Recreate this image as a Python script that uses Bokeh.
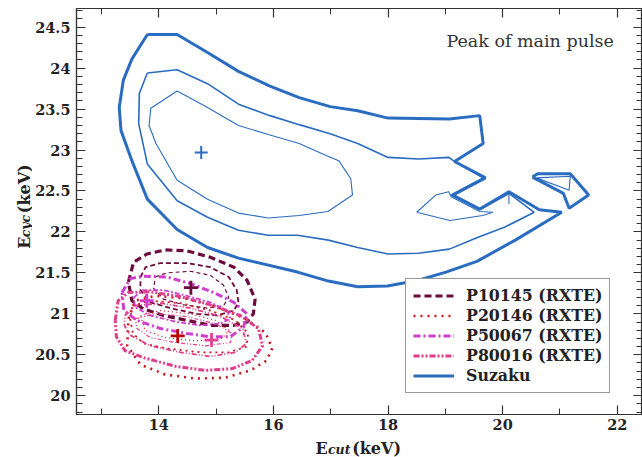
import math
from bokeh.plotting import figure
from bokeh.models import (Range1d, FixedTicker, LinearAxis, CustomJSTickFormatter,
                          Legend, LegendItem, Label)
from bokeh.layouts import column, row
from bokeh.embed import file_html
from bokeh.resources import INLINE

# ---------------- data (keV) ----------------
X_TICKS = [14, 16, 18, 20, 22]
X_MINOR = [13, 14, 15, 16, 17, 18, 19, 20, 21, 22]
Y_TICKS = [20, 20.5, 21, 21.5, 22, 22.5, 23, 23.5, 24, 24.5]
Y_MINOR = [round(19.8 + 0.1 * i, 1) for i in range(50)]

SERIES = ["P10145 (RXTE)", "P20146 (RXTE)", "P50067 (RXTE)", "P80016 (RXTE)", "Suzaku"]

# Suzaku confidence contours (outer, middle, inner)
SUZ_OUTER_X = [13.80, 14.32, 14.85, 15.39, 15.94, 16.45, 16.99, 17.47, 18.00, 19.07, 19.60, 19.66, 19.16,
               19.70, 19.13, 19.60, 20.11, 20.64, 21.03, 20.22, 19.55, 19.01, 18.53, 17.99, 17.47, 16.96,
               16.42, 15.39, 14.85, 14.32, 13.80, 13.53, 13.34, 13.31, 13.38, 13.53, 13.80]
SUZ_OUTER_Y = [24.41, 24.41, 24.19, 23.96, 23.78, 23.64, 23.53, 23.48, 23.39, 23.38, 23.42, 23.08, 22.86,
               22.66, 22.45, 22.28, 22.49, 22.27, 22.24, 21.90, 21.64, 21.51, 21.41, 21.34, 21.33, 21.40,
               21.51, 21.68, 21.81, 22.03, 22.40, 22.87, 23.24, 23.52, 23.85, 24.11, 24.41]
SUZ_MID_X = [13.80, 14.32, 14.85, 15.39, 15.94, 16.45, 16.99, 17.47, 18.00, 18.53, 19.06, 19.14, 19.66,
             19.10, 19.60, 20.11, 20.55, 20.04, 19.55, 19.07, 18.53, 18.00, 17.47, 16.96, 16.42, 15.91,
             15.39, 14.85, 14.32, 13.80, 13.65, 13.66, 13.80]
SUZ_MID_Y = [23.94, 23.98, 23.81, 23.56, 23.42, 23.31, 23.20, 23.08, 22.91, 22.89, 22.91, 22.87, 22.66,
             22.45, 22.27, 22.47, 22.24, 22.06, 21.93, 21.79, 21.74, 21.73, 21.81, 21.90, 21.96, 21.96,
             22.02, 22.18, 22.38, 22.83, 23.32, 23.69, 23.94]
SUZ_INNER_X = [14.32, 13.86, 13.83, 13.95, 14.32, 14.85, 15.39, 15.91, 16.45, 16.95, 17.38, 17.35, 17.14,
               16.93, 16.45, 15.91, 15.39, 14.85, 14.32]
SUZ_INNER_Y = [23.72, 23.51, 23.30, 23.08, 22.63, 22.40, 22.23, 22.17, 22.20, 22.25, 22.45, 22.65, 22.87,
               22.93, 23.08, 23.19, 23.30, 23.52, 23.72]
SUZ_PIECE_X = [18.50, 18.83, 19.06, 19.10, 19.60, 19.83, 19.65, 19.08, 18.50]
SUZ_PIECE_Y = [22.24, 22.45, 22.49, 22.43, 22.25, 22.24, 22.20, 22.14, 22.24]
SUZ_ISLAND_X = [20.52, 20.61, 21.18, 21.50, 21.16, 21.06, 20.52]
SUZ_ISLAND_Y = [22.67, 22.71, 22.71, 22.45, 22.29, 22.47, 22.67]
SUZ_ISLAND_IN_X = [20.59, 21.18, 21.16, 20.59]
SUZ_ISLAND_IN_Y = [22.66, 22.68, 22.51, 22.66]
SUZ_SPUR_X = [20.11, 20.11]
SUZ_SPUR_Y = [22.46, 22.34]

# RXTE contours: [outer, middle, inner]
P10145_X = [[13.47, 13.56, 13.79, 14.11, 14.49, 14.90, 15.31, 15.54, 15.68, 15.65, 15.54, 15.31, 14.90, 14.49, 14.08, 13.73, 13.53, 13.47],
            [13.68, 13.77, 14.03, 14.49, 14.90, 15.22, 15.36, 15.39, 15.31, 15.02, 14.67, 14.26, 13.85, 13.68, 13.68],
            [13.94, 14.14, 14.55, 14.90, 15.13, 15.22, 15.13, 14.84, 14.43, 14.08, 13.91, 13.94]]
P10145_Y = [[21.39, 21.63, 21.73, 21.78, 21.77, 21.69, 21.57, 21.41, 21.18, 21.00, 20.90, 20.86, 20.86, 20.92, 20.98, 21.06, 21.16, 21.39],
            [21.45, 21.57, 21.62, 21.62, 21.57, 21.45, 21.29, 21.14, 21.04, 20.98, 21.00, 21.06, 21.14, 21.29, 21.45],
            [21.45, 21.50, 21.52, 21.47, 21.35, 21.20, 21.10, 21.07, 21.11, 21.18, 21.31, 21.45]]

P20146_X = [[13.47, 13.59, 13.94, 14.46, 14.99, 15.51, 15.86, 15.98, 15.88, 15.60, 15.16, 14.64, 14.11, 13.68, 13.45, 13.47],
            [13.54, 13.85, 14.38, 14.90, 15.34, 15.56, 15.53, 15.22, 14.73, 14.11, 13.73, 13.55, 13.50, 13.54],
            [13.68, 14.03, 14.55, 14.99, 15.22, 15.11, 14.64, 14.11, 13.76, 13.68]]
P20146_Y = [[20.94, 21.16, 21.22, 21.19, 21.09, 20.94, 20.77, 20.58, 20.43, 20.31, 20.22, 20.21, 20.26, 20.38, 20.61, 20.94],
            [21.10, 21.16, 21.13, 21.04, 20.92, 20.76, 20.60, 20.53, 20.53, 20.58, 20.64, 20.76, 20.94, 21.10],
            [20.98, 21.04, 21.00, 20.92, 20.80, 20.70, 20.67, 20.71, 20.80, 20.98]]

P50067_X = [[13.36, 13.50, 13.73, 14.14, 14.55, 14.96, 15.31, 15.54, 15.48, 15.25, 14.90, 14.49, 14.03, 13.62, 13.39, 13.36],
            [13.56, 13.73, 14.08, 14.49, 14.90, 15.19, 15.25, 15.07, 14.72, 14.32, 13.85, 13.59, 13.56]]
P50067_Y = [[21.26, 21.43, 21.46, 21.45, 21.37, 21.26, 21.14, 21.00, 20.84, 20.72, 20.72, 20.76, 20.82, 20.92, 21.04, 21.26],
            [21.20, 21.29, 21.29, 21.22, 21.14, 21.04, 20.94, 20.88, 20.86, 20.90, 20.98, 21.08, 21.20]]

P80016_X = [[13.24, 13.29, 13.47, 13.85, 14.38, 14.90, 15.42, 15.74, 15.81, 15.63, 15.28, 14.81, 14.29, 13.76, 13.41, 13.26, 13.24],
            [13.41, 13.59, 14.03, 14.55, 15.07, 15.46, 15.53, 15.34, 14.90, 14.38, 13.85, 13.50, 13.40, 13.41],
            [13.59, 13.94, 14.46, 14.99, 15.28, 15.25, 14.81, 14.29, 13.85, 13.62, 13.59]]
P80016_Y = [[20.92, 21.16, 21.26, 21.27, 21.21, 21.11, 20.98, 20.82, 20.61, 20.43, 20.33, 20.31, 20.36, 20.46, 20.55, 20.72, 20.92],
            [20.98, 21.10, 21.13, 21.07, 20.97, 20.82, 20.64, 20.53, 20.48, 20.53, 20.61, 20.74, 20.86, 20.98],
            [20.94, 21.00, 20.97, 20.88, 20.76, 20.65, 20.61, 20.65, 20.71, 20.82, 20.94]]

# best-fit points (E_cut, E_cyc)
BEST_X = [14.56, 14.33, 13.79, 14.92, 14.74]
BEST_Y = [21.32, 20.73, 21.16, 20.68, 22.97]

COLORS = ["#6d0a3c", "#c8161d", "#cf3fcf", "#e03d8c", "#2a6cc0"]
CROSS_COLORS = ["#6d0a3c", "#b80000", "#cf3fcf", "#e6409a", "#2a6cc0"]

FONT = "DejaVu Serif"
INK = "#222222"

# ---------------- main figure ----------------
p = figure(width=610, height=437, output_backend="svg", toolbar_location=None,
           x_range=Range1d(12.564, 22.44), y_range=Range1d(19.771, 24.728),
           min_border_left=44, min_border_right=0, min_border_top=8, min_border_bottom=23)
p.background_fill_color = "white"
p.border_fill_color = "white"
p.xgrid.visible = False
p.ygrid.visible = False
p.outline_line_color = "#333333"
p.outline_line_width = 1.2

fmt = CustomJSTickFormatter(code="return String(tick)")
blank = CustomJSTickFormatter(code="return ''")

def style_axis(ax, ticks, minor, labels):
    ax.ticker = FixedTicker(ticks=ticks, minor_ticks=minor)
    ax.axis_line_color = "#333333"
    ax.axis_line_width = 1.2
    ax.major_tick_in = 9
    ax.major_tick_out = 0
    ax.minor_tick_in = 6
    ax.minor_tick_out = 0
    ax.major_tick_line_color = "#333333"
    ax.minor_tick_line_color = "#333333"
    ax.major_tick_line_width = 1.2
    ax.minor_tick_line_width = 1.0
    if labels:
        ax.formatter = fmt
        ax.major_label_text_font = FONT
        ax.major_label_text_font_style = "bold"
        ax.major_label_text_font_size = "14.5px"
        ax.major_label_text_color = INK
    else:
        ax.formatter = blank
        ax.major_label_standoff = 0

style_axis(p.xaxis[0], X_TICKS, X_MINOR, True)
p.xaxis[0].major_label_standoff = 4
style_axis(p.yaxis[0], Y_TICKS, Y_MINOR, True)
p.yaxis[0].major_label_standoff = 6

top_ax = LinearAxis()
style_axis(top_ax, X_TICKS, X_MINOR, False)
p.add_layout(top_ax, "above")
right_ax = LinearAxis()
style_axis(right_ax, Y_TICKS, Y_MINOR, False)
p.add_layout(right_ax, "right")

# ---------------- contours ----------------
rxte = [(P10145_X, P10145_Y, [(3.2, "7 4"), (1.8, "5 3"), (1.2, "4 3")]),
        (P20146_X, P20146_Y, [(2.6, "2 5"), (1.8, "2 4"), (1.2, "1 3")]),
        (P50067_X, P50067_Y, [(3.0, "7 3 2 3"), (1.8, "5 2 2 2")]),
        (P80016_X, P80016_Y, [(3.0, "6 2 2 2 2 2"), (1.8, "5 2 1 2 1 2"), (1.2, "4 2 1 2 1 2")])]

legend_renderers = []
for i, (xs, ys, styles) in enumerate(rxte):
    first = None
    for (xx, yy), (lw, dash) in zip(zip(xs, ys), styles):
        r = p.line(xx, yy, line_color=COLORS[i], line_width=lw, line_dash=dash)
        if first is None:
            first = r
    legend_renderers.append(first)

suz = COLORS[4]
r_suz = p.line(SUZ_OUTER_X, SUZ_OUTER_Y, line_color=suz, line_width=3.0)
p.line(SUZ_MID_X, SUZ_MID_Y, line_color=suz, line_width=1.6)
p.line(SUZ_INNER_X, SUZ_INNER_Y, line_color=suz, line_width=1.1)
p.line(SUZ_PIECE_X, SUZ_PIECE_Y, line_color=suz, line_width=1.1)
p.line(SUZ_ISLAND_X, SUZ_ISLAND_Y, line_color=suz, line_width=3.0)
p.line(SUZ_ISLAND_IN_X, SUZ_ISLAND_IN_Y, line_color=suz, line_width=1.1)
p.line(SUZ_SPUR_X, SUZ_SPUR_Y, line_color=suz, line_width=1.1)
legend_renderers.append(r_suz)

# best-fit crosses
for i in range(len(BEST_X)):
    p.scatter([BEST_X[i]], [BEST_Y[i]], marker="cross", size=14 if i < 4 else 13,
              line_color=CROSS_COLORS[i], line_width=2.8 if i < 4 else 2.0)

# ---------------- legend ----------------
legend = Legend(items=[LegendItem(label=SERIES[i], renderers=[legend_renderers[i]]) for i in range(5)],
                location=(329, 21), margin=0, padding=7, spacing=1, label_height=19,
                glyph_width=41, glyph_height=19, label_standoff=12,
                label_text_font=FONT, label_text_font_style="bold",
                label_text_font_size="15.8px", label_text_color=INK,
                border_line_color="#333333", border_line_width=1.2,
                background_fill_color="white", background_fill_alpha=1.0)
p.add_layout(legend, "center")

p.add_layout(Label(x=21.94, y=24.331, text="Peak of main pulse", text_align="right",
                   text_baseline="alphabetic", text_font=FONT,
                   text_font_size="17.5px", text_color="#333333"))

# ---------------- axis-title strips (pixel coordinates) ----------------
def strip(w, h):
    f = figure(width=w, height=h, output_backend="svg", toolbar_location=None,
               x_range=Range1d(0, w), y_range=Range1d(0, h),
               x_axis_location=None, y_axis_location=None,
               min_border=0, min_border_left=0, min_border_right=0,
               min_border_top=0, min_border_bottom=0)
    f.xgrid.visible = False
    f.ygrid.visible = False
    f.outline_line_color = None
    f.background_fill_color = "white"
    f.border_fill_color = "white"
    return f

lab_kw = dict(text_font=FONT, text_color=INK, text_baseline="alphabetic", text_align="left")

# y title: E_cyc (keV)
ylab = strip(32, 437)
ang = math.pi / 2
ylab.add_layout(Label(x=23.5, y=178.5, text="E", angle=ang, text_font_size="16px",
                      text_font_style="bold", **lab_kw))
ylab.add_layout(Label(x=25.3, y=190.7, text="cyc", angle=ang, text_font_size="12.5px",
                      text_font_style="bold italic", **lab_kw))
ylab.add_layout(Label(x=23.5, y=216.7, text="(keV)", angle=ang, text_font_size="16px",
                      text_font_style="bold", **lab_kw))

# x title: E_cut (keV)
xlab = strip(642, 20)
xlab.add_layout(Label(x=315, y=9.5, text="E", text_font_size="16px", text_font_style="bold", **lab_kw))
xlab.add_layout(Label(x=327.5, y=7.7, text="cut", text_font_size="12.5px",
                      text_font_style="bold italic", **lab_kw))
xlab.add_layout(Label(x=351.7, y=9.5, text="(keV)", text_font_size="16px", text_font_style="bold", **lab_kw))

layout = column(row(ylab, p, spacing=0), xlab, spacing=0)
open("out.html", "w").write(file_html(layout, INLINE))
